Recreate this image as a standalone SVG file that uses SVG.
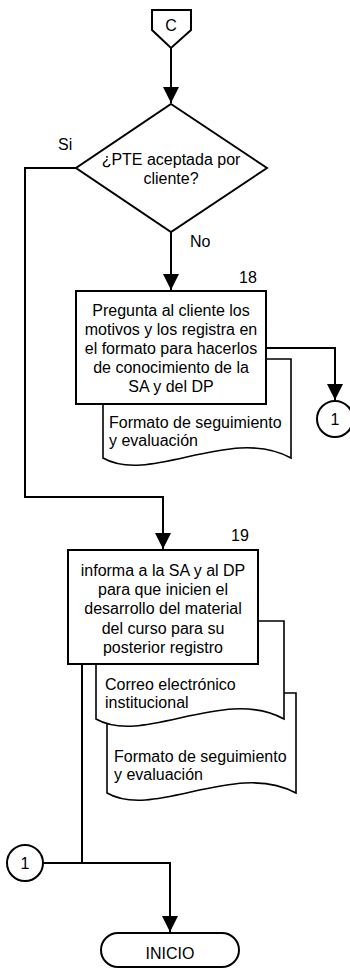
<svg xmlns="http://www.w3.org/2000/svg" width="350" height="975" viewBox="0 0 350 975">
<style>
text{font-family:"Liberation Sans",Arial,sans-serif;font-size:16px;fill:#000}
.c{text-anchor:middle}
.shape{fill:#fff;stroke:#000;stroke-width:2}
.doc{fill:#fff;stroke:#000;stroke-width:1.6}
.line{fill:none;stroke:#000;stroke-width:2}
</style>
<defs>
<marker id="arr" markerUnits="userSpaceOnUse" markerWidth="17" markerHeight="17" refX="16" refY="8" orient="auto" viewBox="0 0 17 16">
<path d="M0,0 L16,8 L0,16 z" fill="#000"/>
</marker>
</defs>
<g id="connectors">
<path class="line" d="M171,48 V103" marker-end="url(#arr)"/>
<path class="line" d="M76,168 H25 V497 H163 V549" marker-end="url(#arr)"/>
<path class="line" d="M171,232 V290" marker-end="url(#arr)"/>
<path class="line" d="M266,348 H335 V400" marker-end="url(#arr)"/>
<path class="line" d="M82,664 V863"/>
<path class="line" d="M43,863 H170 V932" marker-end="url(#arr)"/>
</g>
<g id="offpage-C">
<path class="shape" d="M152,10 H191 V30 L171,48 L152,30 Z"/>
<text class="c" x="171" y="31">C</text>
</g>
<g id="decision">
<path class="shape" d="M171,104 L267,168 L171,232 L76,168 Z"/>
<text class="c" x="171" y="165">¿PTE aceptada por</text>
<text class="c" x="171" y="184">cliente?</text>
<text x="58" y="150">Si</text>
<text x="190" y="247">No</text>
</g>
<g id="doc18">
<path class="doc" d="M103,359 H291 V458 C231,425 150,485 103,458 Z"/>
<text x="109" y="428">Formato de seguimiento</text>
<text x="109" y="446">y evaluación</text>
</g>
<g id="step18">
<rect class="shape" x="76" y="291" width="190" height="113"/>
<text x="248" y="283" class="c">18</text>
<text class="c" x="171" y="316">Pregunta al cliente los</text>
<text class="c" x="171" y="335">motivos y los registra en</text>
<text class="c" x="171" y="354">el formato para hacerlos</text>
<text class="c" x="171" y="373">de conocimiento de la</text>
<text class="c" x="171" y="392">SA y del DP</text>
</g>
<g id="connector1-right">
<circle class="shape" cx="335" cy="419" r="18"/>
<text class="c" x="335" y="425">1</text>
</g>
<g id="doc19b">
<path class="doc" d="M107,693 H296 V793 C235,760 154,820 107,793 Z"/>
<text x="114" y="762">Formato de seguimiento</text>
<text x="114" y="780">y evaluación</text>
</g>
<g id="doc19a">
<path class="doc" d="M96,621 H284 V719 C224,686 143,746 96,719 Z"/>
<text x="105" y="690">Correo electrónico</text>
<text x="105" y="708">institucional</text>
</g>
<g id="step19">
<rect class="shape" x="68" y="550" width="190" height="114"/>
<text x="240" y="541" class="c">19</text>
<text class="c" x="163" y="576">informa a la SA y al DP</text>
<text class="c" x="163" y="595">para que inicien el</text>
<text class="c" x="163" y="614">desarrollo del material</text>
<text class="c" x="163" y="634">del curso para su</text>
<text class="c" x="163" y="653">posterior registro</text>
</g>
<g id="connector1-left">
<circle class="shape" cx="25" cy="863" r="18"/>
<text class="c" x="25" y="869">1</text>
</g>
<g id="inicio">
<rect class="shape" x="101" y="933" width="138" height="34" rx="17"/>
<text class="c" x="170" y="959">INICIO</text>
</g>
</svg>
